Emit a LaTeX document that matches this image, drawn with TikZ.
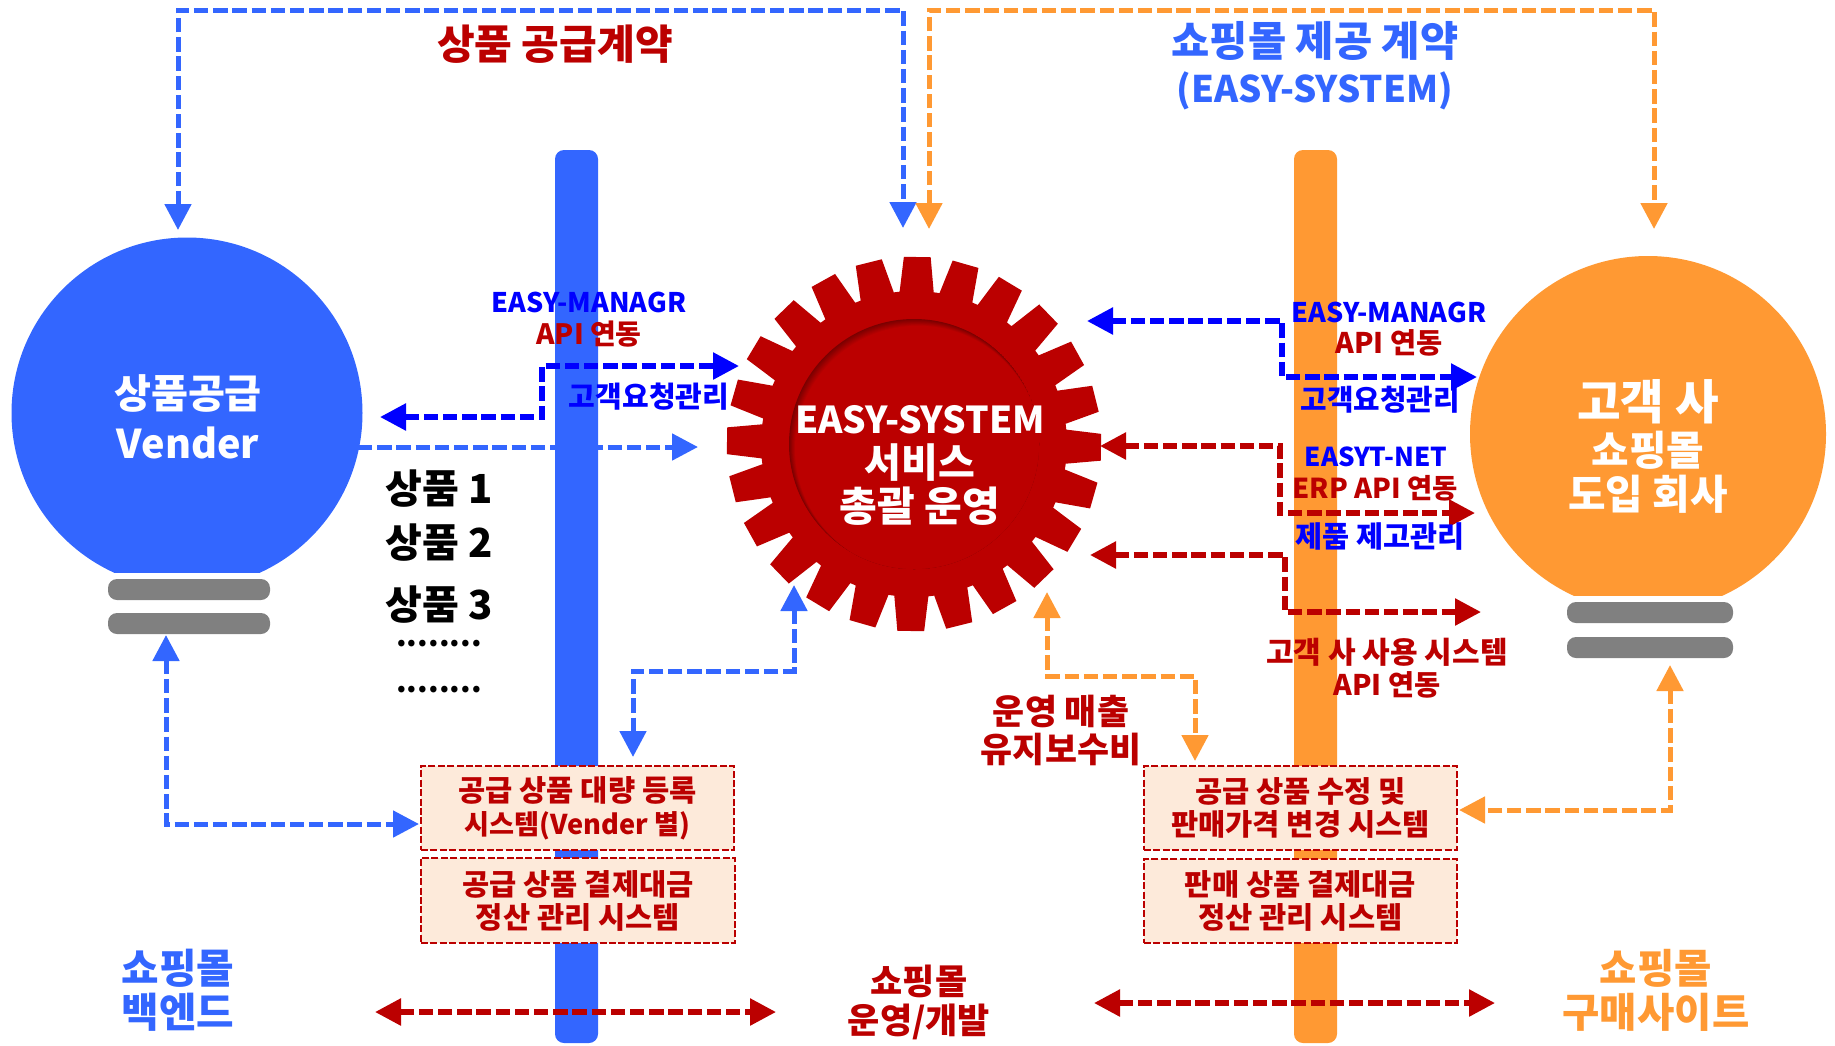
\documentclass[tikz,border=0pt]{standalone}
\usepackage{fontspec}
\setmainfont{Noto Sans CJK KR}
\usetikzlibrary{arrows.meta}
\definecolor{lblue}{HTML}{3366FF}
\definecolor{dblue}{HTML}{0000FF}
\definecolor{ored}{HTML}{FF9933}
\definecolor{gearred}{HTML}{BB0000}
\definecolor{gearshade}{HTML}{7A0000}
\definecolor{boxfill}{HTML}{FDEADA}
\definecolor{basegrey}{HTML}{808080}
\newcommand{\fs}[2]{\fontsize{#1pt}{#2pt}\selectfont\bfseries}
\tikzset{
  x=0.5pt,y=-0.5pt,
  txt/.style={inner sep=0pt,align=center,anchor=center},
  conn/.style={dash pattern=on 7.2pt off 2.4pt,line width=2.5pt},
  heavy/.style={line width=2.8pt},
  bothtips/.style={{Triangle[length=13pt,width=13pt]}-{Triangle[length=13pt,width=13pt]}},
  endtip/.style={-{Triangle[length=13pt,width=13pt]}},
  basebar/.style={fill=basegrey,rounded corners=4.5pt},
  sysbox/.style={draw=gearred,fill=boxfill,line width=1.3pt,dash pattern=on 3.5pt off 1.2pt,inner sep=0pt,align=center,text=gearred,font=\fs{14.8}{16.5}}
}
\begin{document}
\begin{tikzpicture}
\useasboundingbox (0,0) rectangle (1835,1045);
% bars
\fill[lblue,rounded corners=4.5pt] (555,150) rectangle (598,1043);
\fill[ored,rounded corners=4.5pt] (1294,150) rectangle (1337,1043);
% left bulb
\begin{scope}
\clip (0,0) rectangle (1835,572);
\fill[lblue] (187,413) circle[radius=175.5];
\end{scope}
\fill[basebar] (108,579) rectangle (270,600);
\fill[basebar] (108,613) rectangle (270,634);
% right bulb
\begin{scope}
\clip (0,0) rectangle (1835,595);
\fill[ored] (1648,434) circle[radius=178];
\end{scope}
\fill[basebar] (1567,602) rectangle (1733,623);
\fill[basebar] (1567,637) rectangle (1733,658);
% gear
\begin{scope}[shift={(914,444)}]
\fill[gearred] (-5:153) \foreach \a in {1,16,...,346} { -- (\a-6.4:153) -- (\a-4.1:187.5) -- (\a+4.1:187.5) -- (\a+6.4:153) } -- cycle;
\clip (0,0) circle[radius=125];
\fill[gearshade] (0,0) circle[radius=125];
\foreach \i [evaluate=\i as \p using \i*12.5] in {1,...,8}
  \fill[gearred!\p!gearshade] ({0.5*\i},{0.6*\i}) circle[radius={125-0.25*\i}];
\end{scope}
% named connector ends
\coordinate (t1) at (178,230); \coordinate (t1u) at (178,10); \coordinate (t2u) at (903,10); \coordinate (t2) at (903,228);
\coordinate (o1) at (929,229); \coordinate (o1u) at (929,10); \coordinate (o2u) at (1654,10); \coordinate (o2) at (1654,229);
\coordinate (b1) at (380,417); \coordinate (b1a) at (542,417); \coordinate (b1b) at (542,366); \coordinate (b1c) at (739,366);
\coordinate (v1) at (358,447); \coordinate (v2) at (698,447);
\coordinate (r1) at (1087,321); \coordinate (r1a) at (1282,321); \coordinate (r1b) at (1282,377); \coordinate (r1c) at (1477,377);
\coordinate (n1) at (1100,446); \coordinate (n1a) at (1280,446); \coordinate (n1b) at (1280,513); \coordinate (n1c) at (1475,513);
\coordinate (c1) at (1090,555); \coordinate (c1a) at (1285,555); \coordinate (c1b) at (1285,612); \coordinate (c1c) at (1481,612);
\coordinate (g1) at (794,585); \coordinate (g1a) at (794,671); \coordinate (g1b) at (633,671); \coordinate (g1c) at (633,757);
\coordinate (m1) at (1047,592); \coordinate (m1a) at (1047,676); \coordinate (m1b) at (1195,676); \coordinate (m1c) at (1195,761);
\coordinate (l1) at (166,635); \coordinate (l1a) at (166,824); \coordinate (l1c) at (419,824);
\coordinate (q1) at (1670,665); \coordinate (q1a) at (1670,810); \coordinate (q1c) at (1459,810);
\coordinate (f1) at (375,1012); \coordinate (f2) at (776,1012);
\coordinate (h1) at (1094,1003); \coordinate (h2) at (1495,1003);
% connectors
\draw[conn,bothtips,lblue] (t1) -- (t1u) -- (t2u) -- (t2);
\draw[conn,bothtips,ored] (o1) -- (o1u) -- (o2u) -- (o2);
\draw[conn,heavy,bothtips,dblue] (b1) -- (b1a) -- (b1b) -- (b1c);
\draw[conn,endtip,lblue] (v1) -- (v2);
\draw[conn,heavy,bothtips,dblue] (r1) -- (r1a) -- (r1b) -- (r1c);
\draw[conn,heavy,bothtips,gearred] (n1) -- (n1a) -- (n1b) -- (n1c);
\draw[conn,heavy,bothtips,gearred] (c1) -- (c1a) -- (c1b) -- (c1c);
\draw[conn,bothtips,lblue] (g1) -- (g1a) -- (g1b) -- (g1c);
\draw[conn,bothtips,ored] (m1) -- (m1a) -- (m1b) -- (m1c);
\draw[conn,bothtips,lblue] (l1) -- (l1a) -- (l1c);
\draw[conn,bothtips,ored] (q1) -- (q1a) -- (q1c);
\draw[conn,heavy,bothtips,gearred] (f1) -- (f2);
\draw[conn,heavy,bothtips,gearred] (h1) -- (h2);
% boxes
\node[sysbox,minimum width=156.5pt,minimum height=42pt] (box1) at (577.5,808) {공급 상품 대량 등록\\\fs{13.6}{16.5}시스템(Vender 별)};
\node[sysbox,minimum width=157pt,minimum height=42.5pt] (box2) at (578,900.5) {공급 상품 결제대금\\정산 관리 시스템};
\node[sysbox,minimum width=156.5pt,minimum height=42pt] (box3) at (1300.5,808) {공급 상품 수정 및\\판매가격 변경 시스템};
\node[sysbox,minimum width=156.5pt,minimum height=42pt] (box4) at (1300.5,901) {판매 상품 결제대금\\정산 관리 시스템};
% labels
\node[txt,text=gearred,font=\fs{20.5}{23}] (lab1) at (555,44) {상품 공급계약};
\node[txt,text=lblue,font=\fs{20.8}{23}] (lab2) at (1315,65.5) {쇼핑몰 제공 계약\\\fs{18.3}{23}(EASY-SYSTEM)};
\node[txt,text=white,font=\fs{20.1}{25}] (vend) at (188,417) {상품공급\\\fs{19.8}{25}Vender};
\node[txt,text=dblue,font=\fs{13.5}{16}] (lab3) at (589,302) {EASY-MANAGR};
\node[txt,text=gearred,font=\fs{14}{16}] (lab4) at (589,334) {API 연동};
\node[txt,text=dblue,font=\fs{14.5}{16}] (lab5) at (649,397) {고객요청관리};
\node[txt,text=black,font=\fs{20}{20}] (it1) at (439,489) {상품 1};
\node[txt,text=black,font=\fs{20}{20}] (it2) at (439,543) {상품 2};
\node[txt,text=black,font=\fs{20}{20}] (it3) at (439,605) {상품 3};
\node[txt,text=black,font=\fs{15.2}{20}] (it4) at (439,644) {........};
\node[txt,text=black,font=\fs{15.2}{20}] (it5) at (439,690) {........};
\node[txt,text=white,font=\fs{18.5}{22}] (gear) at (920,465) {EASY-SYSTEM\\\fs{20}{22}서비스\\\fs{20.5}{22}총괄 운영};
\node[txt,text=dblue,font=\fs{13.5}{16}] (lab6) at (1389,312) {EASY-MANAGR};
\node[txt,text=gearred,font=\fs{14.2}{16}] (lab7) at (1389,343) {API 연동};
\node[txt,text=dblue,font=\fs{14.4}{16}] (lab8) at (1380,400) {고객요청관리};
\node[txt,text=dblue,font=\fs{13}{16}] (lab9) at (1376,457) {EASYT-NET};
\node[txt,text=gearred,font=\fs{13.7}{16}] (lab10) at (1375,488) {ERP API 연동};
\node[txt,text=dblue,font=\fs{14.7}{16}] (lab11) at (1380,536) {제품 제고관리};
\node[txt,text=gearred,font=\fs{15}{16}] (lab12) at (1387,668) {고객 사 사용 시스템\\\fs{14.2}{16}API 연동};
\node[txt,text=gearred,font=\fs{17.4}{19}] (lab13) at (1061,730) {운영 매출\\유지보수비};
\node[txt,text=white,font=\fs{23.7}{22}] (cust1) at (1648,402) {고객 사};
\node[txt,text=white,font=\fs{20.4}{22}] (cust2) at (1648,472) {쇼핑몰\\도입 회사};
\node[txt,text=lblue,font=\fs{20.4}{22}] (back) at (178,990.5) {쇼핑몰\\백엔드};
\node[txt,text=gearred,font=\fs{17.5}{19.5}] (ops) at (919,1002) {쇼핑몰\\운영/개발};
\node[txt,text=ored,font=\fs{20.3}{22}] (buy) at (1656,990.5) {쇼핑몰\\구매사이트};
\end{tikzpicture}
\end{document}
